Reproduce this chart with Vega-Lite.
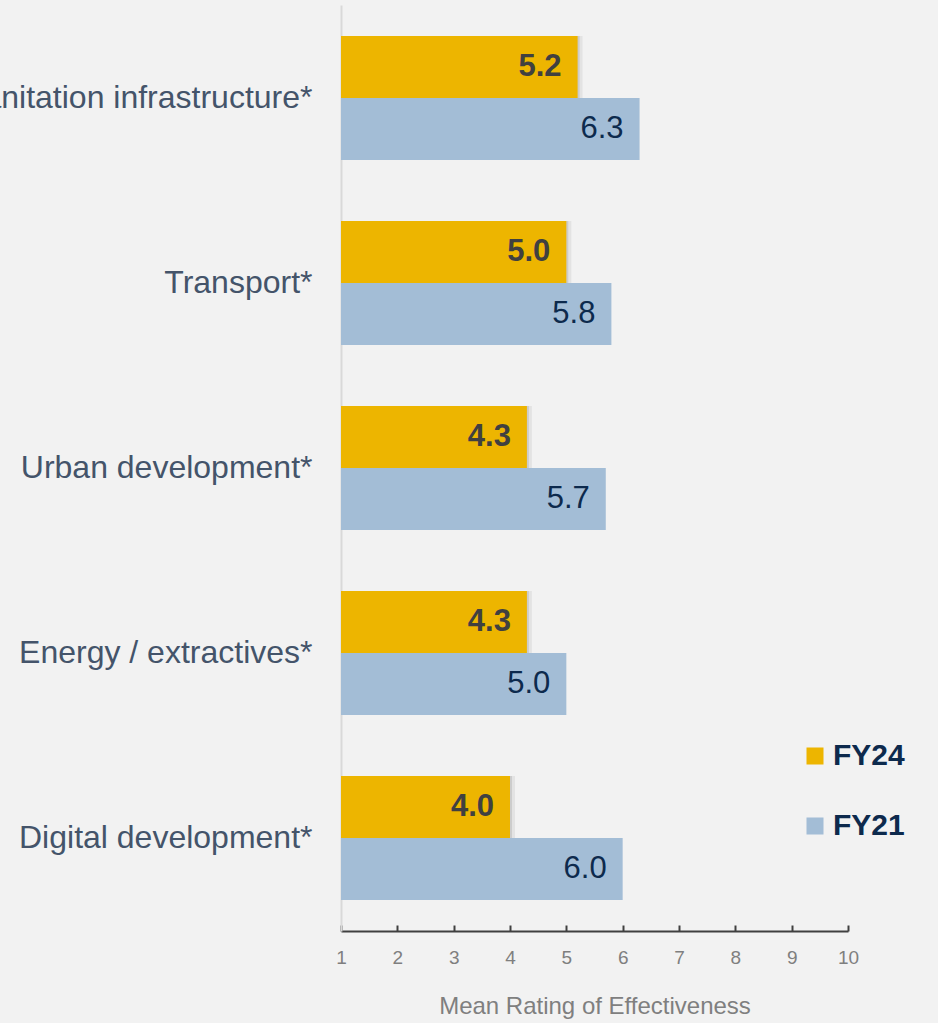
{
  "$schema": "https://vega.github.io/schema/vega-lite/v6.json",
  "width": 507,
  "height": 926,
  "autosize": {"type": "none"},
  "padding": {"left": 341, "top": 5, "right": 90, "bottom": 92},
  "background": "#f2f2f2",
  "config": {
    "font": "Liberation Sans",
    "view": {"stroke": null}
  },
  "data": {
    "values": [
      {"sector": "Sanitation infrastructure*", "year": "FY24", "value": 5.2},
      {"sector": "Sanitation infrastructure*", "year": "FY21", "value": 6.3},
      {"sector": "Transport*", "year": "FY24", "value": 5.0},
      {"sector": "Transport*", "year": "FY21", "value": 5.8},
      {"sector": "Urban development*", "year": "FY24", "value": 4.3},
      {"sector": "Urban development*", "year": "FY21", "value": 5.7},
      {"sector": "Energy / extractives*", "year": "FY24", "value": 4.3},
      {"sector": "Energy / extractives*", "year": "FY21", "value": 5.0},
      {"sector": "Digital development*", "year": "FY24", "value": 4.0},
      {"sector": "Digital development*", "year": "FY21", "value": 6.0}
    ]
  },
  "encoding": {
    "y": {
      "field": "sector",
      "type": "nominal",
      "sort": null,
      "scale": {"paddingInner": 0.33, "paddingOuter": 0.167},
      "axis": {
        "title": null,
        "ticks": false,
        "domainColor": "#d9d9d9",
        "domainWidth": 2,
        "labelFontSize": 32,
        "labelColor": "#44546a",
        "labelPadding": 29,
        "labelLimit": 0
      }
    },
    "yOffset": {
      "field": "year",
      "type": "nominal",
      "sort": ["FY24", "FY21"],
      "scale": {"paddingInner": 0, "paddingOuter": 0}
    }
  },
  "layer": [
    {
      "transform": [{"filter": "datum.year === 'FY24'"}],
      "mark": {"type": "bar", "color": "#000000", "opacity": 0.1, "xOffset": 2, "yOffset": 2},
      "encoding": {
        "x": {"field": "value", "type": "quantitative"},
        "x2": {"datum": 1}
      }
    },
    {
      "transform": [{"filter": "datum.year === 'FY24'"}],
      "mark": {"type": "bar", "color": "#000000", "opacity": 0.06, "xOffset": 5, "yOffset": 4},
      "encoding": {
        "x": {"field": "value", "type": "quantitative"},
        "x2": {"datum": 1}
      }
    },
    {
      "mark": {"type": "bar"},
      "encoding": {
        "x": {
          "field": "value",
          "type": "quantitative",
          "scale": {"domain": [1, 10], "zero": false, "nice": false},
          "axis": {
            "title": "Mean Rating of Effectiveness",
            "titleFontSize": 24,
            "titleFontWeight": "normal",
            "titleColor": "#7f7f7f",
            "titlePadding": 27,
            "values": [1, 2, 3, 4, 5, 6, 7, 8, 9, 10],
            "format": "d",
            "grid": false,
            "domainColor": "#404040",
            "domainWidth": 2,
            "tickColor": "#404040",
            "tickWidth": 2,
            "tickSize": -6,
            "labelFontSize": 19,
            "labelColor": "#7f7f7f",
            "labelPadding": 23,
            "labelFlush": false
          }
        },
        "x2": {"datum": 1},
        "color": {
          "field": "year",
          "type": "nominal",
          "scale": {"domain": ["FY24", "FY21"], "range": ["#edb500", "#a3bdd6"]},
          "legend": {
            "title": null,
            "orient": "none",
            "legendX": 459,
            "legendY": 736,
            "symbolType": "square",
            "symbolSize": 289,
            "symbolStrokeWidth": 0,
            "labelFontSize": 30,
            "labelFontWeight": "bold",
            "labelColor": "#0d2a4d",
            "labelOffset": 3,
            "rowPadding": 40
          }
        }
      }
    },
    {
      "transform": [{"filter": "datum.year === 'FY24'"}],
      "mark": {"type": "text", "align": "right", "baseline": "middle", "dx": -16, "fontSize": 31, "fontWeight": "bold", "color": "#404040"},
      "encoding": {
        "x": {"field": "value", "type": "quantitative"},
        "text": {"field": "value", "type": "quantitative", "format": ".1f"}
      }
    },
    {
      "transform": [{"filter": "datum.year === 'FY21'"}],
      "mark": {"type": "text", "align": "right", "baseline": "middle", "dx": -16, "fontSize": 31, "color": "#0d2a4d"},
      "encoding": {
        "x": {"field": "value", "type": "quantitative"},
        "text": {"field": "value", "type": "quantitative", "format": ".1f"}
      }
    }
  ]
}
